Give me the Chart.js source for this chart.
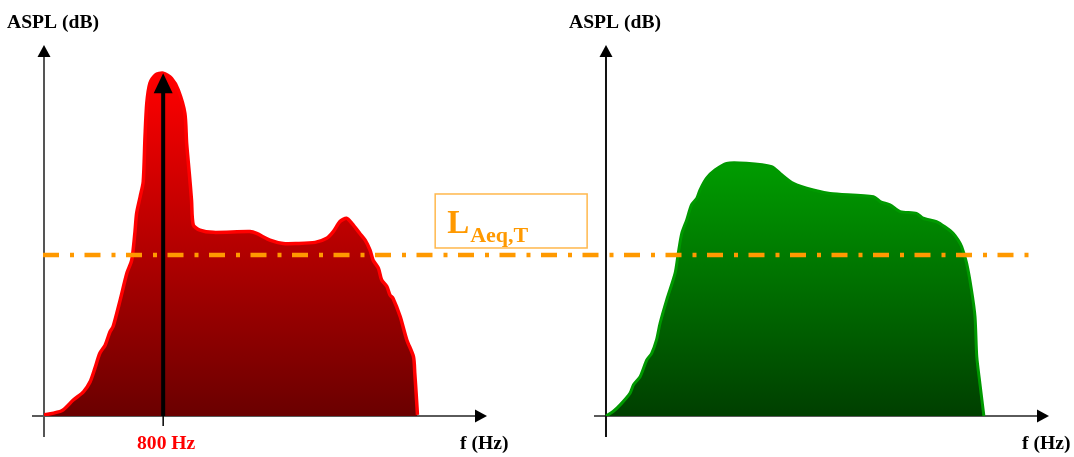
<!DOCTYPE html>
<html><head><meta charset="utf-8">
<script src="https://cdn.jsdelivr.net/npm/chart.js@4/dist/chart.umd.min.js"></script>
<style>html,body{margin:0;padding:0;background:#fff;overflow:hidden}#c{display:block}</style>
</head><body><canvas id="c" width="1074" height="457"></canvas>
<script>
// ---- data (arbitrary frequency units 0..100 per panel, level units 0..100) ----
const redFreq  = [0,4.0,6.6,8.9,10.4,11.5,12.6,13.8,14.9,15.6,17.2,18.7,19.8,20.5,20.9,21.7,22.4,22.8,23.2,23.9,25.1,26.9,28.8,30.3,31.8,32.2,32.8,33.3,33.7,35.2,38.2,46.5,48.0,51.0,54.0,57.0,61.2,63.8,65.3,66.8,68.3,69.5,71.3,72.5,73.6,74.3,75.5,76.2,77.4,78.1,78.8,80.4,81.9,83.4,83.7,84.1,84.3];
const redLevel = [0.3,1.4,4.3,6.5,9.2,12.9,16.9,19.1,22.7,24.1,31.3,38.5,42.0,49.2,54.6,59.1,63.2,75.3,84.3,89.7,91.9,92.4,91.0,87.9,81.6,73.5,65.4,58.2,51.5,50.1,49.5,49.7,49.2,47.4,46.5,46.5,46.8,47.9,49.7,52.4,53.3,51.9,49.2,47.4,44.7,42.0,39.8,36.7,34.9,32.6,31.7,26.8,20.5,16.0,11.5,4.3,0.3];
const greenFreq  = [0,1.6,3.2,5.4,6.2,7.7,9.2,10.3,11.4,12.2,13.7,15.6,16.3,17.1,18.2,19.3,20.5,21.2,22.7,24.6,27.2,31.7,37.4,39.3,42.3,46.8,50.6,60.4,61.9,64.1,66.4,70.1,71.6,74.6,76.5,78.4,79.5,80.3,81.4,82.5,83.3,83.7,84.4,85.3];
const greenLevel = [0,1.2,3.0,6.1,8.4,10.6,15.1,16.9,20.5,25.0,31.3,38.5,43.8,49.2,52.8,56.9,58.7,60.9,64.1,66.3,68.1,68.1,67.2,65.4,62.7,60.9,60.0,59.1,57.8,56.9,55.1,54.6,53.3,52.4,51.0,49.2,47.4,45.6,41.2,34.0,26.8,16.0,8.8,0];
const levelLAeq = 43.4;      // L_Aeq,T level
const toneFreq = 26.9;       // 800 Hz position
const tonePeak = 92.4;
const axisLength = 100;
const rightPanelOffset = 126.86;
const yTitle = 'ASPL (dB)';
const xTitle = 'f (Hz)';
const toneLabel = '800 Hz';
const levelMain = 'L';
const levelSub = 'Aeq,T';

const FONT = '"Liberation Serif", "Times New Roman", serif';

function grad(chart, topVal, c0, c1) {
  const y = chart.scales.y;
  if (!y || !chart.chartArea) return c1;
  const g = chart.ctx.createLinearGradient(0, y.getPixelForValue(topVal), 0, y.getPixelForValue(0));
  g.addColorStop(0, c0); g.addColorStop(1, c1);
  return g;
}

function arrowHead(ctx, tx, ty, dir, w, h, color) {
  ctx.fillStyle = color;
  ctx.beginPath();
  if (dir === 'up') { ctx.moveTo(tx, ty); ctx.lineTo(tx - w/2, ty + h); ctx.lineTo(tx + w/2, ty + h); }
  else { ctx.moveTo(tx, ty); ctx.lineTo(tx - h, ty - w/2); ctx.lineTo(tx - h, ty + w/2); }
  ctx.closePath(); ctx.fill();
}

const overlay = {
  id: 'overlay',
  beforeDatasetsDraw(chart) {
    const {ctx, scales: {x, y}} = chart;
    const yb = y.getPixelForValue(0), yt = y.getPixelForValue(100);
    [[0, '#555'], [rightPanelOffset, '#111']].forEach(([off, ycol]) => {
      const x0 = x.getPixelForValue(off), x1 = x.getPixelForValue(off + axisLength);
      ctx.save();
      ctx.lineWidth = 2;
      ctx.strokeStyle = '#5a5a5a';
      ctx.beginPath(); ctx.moveTo(x0 - 12, yb); ctx.lineTo(x1 - 8, yb); ctx.stroke();
      ctx.strokeStyle = ycol;
      ctx.beginPath(); ctx.moveTo(x0, yb + 21); ctx.lineTo(x0, yt + 8); ctx.stroke();
      arrowHead(ctx, x0, yt, 'up', 13, 12, '#000');
      arrowHead(ctx, x1, yb, 'right', 13, 12, '#000');
      ctx.restore();
    });
  },
  afterDatasetsDraw(chart) {
    const {ctx, scales: {x, y}} = chart;
    const yb = y.getPixelForValue(0), yt = y.getPixelForValue(100);
    ctx.save();
    // tone arrow
    const tx = x.getPixelForValue(toneFreq);
    const ty = y.getPixelForValue(tonePeak);
    ctx.strokeStyle = '#000'; ctx.lineWidth = 4;
    ctx.beginPath(); ctx.moveTo(tx, yb); ctx.lineTo(tx, ty + 14); ctx.stroke();
    arrowHead(ctx, tx, ty, 'up', 19, 20, '#000');
    ctx.lineWidth = 1.5;
    ctx.beginPath(); ctx.moveTo(tx, yb); ctx.lineTo(tx, yb + 10); ctx.stroke();

    // level line
    const ly = y.getPixelForValue(levelLAeq);
    ctx.strokeStyle = '#ff9900'; ctx.lineWidth = 4.5;
    ctx.setLineDash([16, 11, 4, 10.5]);
    ctx.beginPath();
    ctx.moveTo(x.getPixelForValue(0) - 1, ly);
    ctx.lineTo(x.getPixelForValue(rightPanelOffset + 95.5), ly);
    ctx.stroke();
    ctx.setLineDash([]);

    // level label box
    const bx0 = x.getPixelForValue(88.3), bx1 = x.getPixelForValue(122.6);
    const by1 = ly - 7, by0 = by1 - 54;
    ctx.strokeStyle = '#ffb84d'; ctx.lineWidth = 1.5;
    ctx.strokeRect(bx0, by0, bx1 - bx0, by1 - by0);
    ctx.fillStyle = '#ff9900';
    ctx.textBaseline = 'alphabetic'; ctx.textAlign = 'left';
    ctx.font = 'bold 33px ' + FONT;
    ctx.fillText(levelMain, bx0 + 12, by1 - 15);
    const lw = ctx.measureText(levelMain).width;
    ctx.font = 'bold 22px ' + FONT;
    ctx.fillText(levelSub, bx0 + 12 + lw + 1, by1 - 6);

    // titles
    ctx.fillStyle = '#000';
    ctx.font = 'bold 19.6px ' + FONT;
    [0, rightPanelOffset].forEach(off => {
      const x0 = x.getPixelForValue(off), x1 = x.getPixelForValue(off + axisLength);
      ctx.textAlign = 'left';
      ctx.fillText(yTitle, x0 - 37, yt - 17);
      ctx.fillText(xTitle, x1 - 27, yb + 33);
    });
    ctx.fillStyle = '#ff0000';
    ctx.textAlign = 'center';
    ctx.fillText(toneLabel, tx + 3, yb + 33);
    ctx.restore();
  }
};

const chart = new Chart(document.getElementById('c'), {
  type: 'line',
  data: {
    datasets: [
      {
        data: redFreq.map((f, i) => ({x: f, y: redLevel[i]})),
        borderColor: '#ff0000', borderWidth: 3.5,
        backgroundColor: (c) => grad(c.chart, 92, '#ff0000', '#6a0000'),
        fill: 'origin', tension: 0.25, pointRadius: 0
      },
      {
        data: greenFreq.map((f, i) => ({x: f + rightPanelOffset, y: greenLevel[i]})),
        borderColor: '#009900', borderWidth: 3,
        backgroundColor: (c) => grad(c.chart, 68, '#009c00', '#003f00'),
        fill: 'origin', tension: 0.25, pointRadius: 0
      }
    ]
  },
  options: {
    responsive: false, animation: false, devicePixelRatio: 1,
    layout: {padding: {left: 44, right: 25, top: 45, bottom: 41}},
    plugins: {legend: {display: false}, tooltip: {enabled: false}, title: {display: false}},
    scales: {
      x: {type: 'linear', min: 0, max: rightPanelOffset + axisLength, display: false},
      y: {type: 'linear', min: 0, max: 100, display: false}
    },
    elements: {line: {capBezierPoints: true}}
  },
  plugins: [overlay]
});
</script>
</body></html>
